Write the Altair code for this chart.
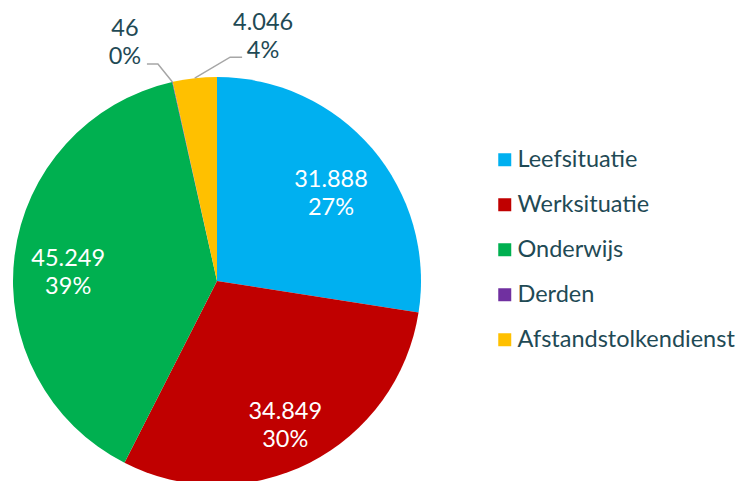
import math
import altair as alt
import pandas as pd

categories = ["Leefsituatie", "Werksituatie", "Onderwijs", "Derden", "Afstandstolkendienst"]
values = [31888, 34849, 45249, 46, 4046]
pct_labels = ["27%", "30%", "39%", "0%", "4%"]
colors = ["#00B0F0", "#C00000", "#00B050", "#7030A0", "#FFC000"]
inside = [True, True, True, False, False]

TEXT = "#1F4A55"
FS = 23.5
CX, CY, R = 209, 273, 204


def fmt(v):
    return f"{v:,}".replace(",", ".")


labels = [f"{fmt(v)}\n{p}" for v, p in zip(values, pct_labels)]
df = pd.DataFrame({
    "idx": list(range(len(categories))),
    "cat": categories,
    "value": values,
    "inlab": [l if i else "" for l, i in zip(labels, inside)],
})

# anchors on circle for outside labels, from the data
total = sum(values)
cum = 0
anchors = {}
for c, v in zip(categories, values):
    mid = (cum + v / 2) / total * 2 * math.pi
    anchors[c] = (CX + R * math.sin(mid), CY - R * math.cos(mid))
    cum += v

# leader line offsets (layout): elbow, end, text centre relative to anchor
layout = {
    "Derden": [(-14.5, -18), (-25.5, -18), (-47.5, -52.5)],
    "Afstandstolkendienst": [(35.4, -21), (47.4, -21), (68.4, -55)],
}
line_rows, text_rows = [], []
for c, (el, en, tc) in layout.items():
    ax, ay = anchors[c]
    line_rows += [
        {"c": c, "o": 0, "px": ax, "py": ay},
        {"c": c, "o": 1, "px": ax + el[0], "py": ay + el[1]},
        {"c": c, "o": 2, "px": ax + en[0], "py": ay + en[1]},
    ]
    text_rows.append({"c": c, "px": ax + tc[0], "py": ay + tc[1],
                      "t": labels[categories.index(c)]})
ldf = pd.DataFrame(line_rows)
tdf = pd.DataFrame(text_rows)

base = alt.Chart(df).encode(
    theta=alt.Theta("value:Q", stack=True),
    order=alt.Order("idx:Q"),
    x=alt.value(CX),
    y=alt.value(CY),
)

arcs = base.mark_arc(outerRadius=R, stroke=None).encode(
    color=alt.Color(
        "cat:N",
        scale=alt.Scale(domain=categories, range=colors),
        legend=alt.Legend(
            title=None, orient="none", legendX=485, legendY=140,
            symbolType="square", symbolSize=169, symbolStrokeWidth=0,
            labelFont="Lato", labelFontSize=FS, labelColor=TEXT,
            labelOffset=1, rowPadding=20, labelLimit=400,
        ),
    )
)

intext = base.mark_text(
    radius=150, dy=-3, font="Lato", fontSize=FS, color="white",
    lineBreak="\n", lineHeight=28, baseline="middle", align="center",
).encode(text="inlab:N")

lines = alt.Chart(ldf).mark_line(color="#A6A6A6", strokeWidth=1.5).encode(
    x=alt.X("px:Q", scale=None),
    y=alt.Y("py:Q", scale=None),
    detail="c:N",
    order="o:Q",
)

outtext = alt.Chart(tdf).mark_text(
    font="Lato", fontSize=FS, color=TEXT, lineBreak="\n", lineHeight=28,
    baseline="middle", align="center",
).encode(
    x=alt.X("px:Q", scale=None),
    y=alt.Y("py:Q", scale=None),
    text="t:N",
)

chart = alt.layer(arcs, intext, lines, outtext).properties(
    width=728, height=473,
    autosize=alt.AutoSizeParams(type="none"),
    padding=0,
    background="white",
).configure_view(stroke=None)

chart.save("out.html", embed_options={"renderer": "svg", "actions": False})
